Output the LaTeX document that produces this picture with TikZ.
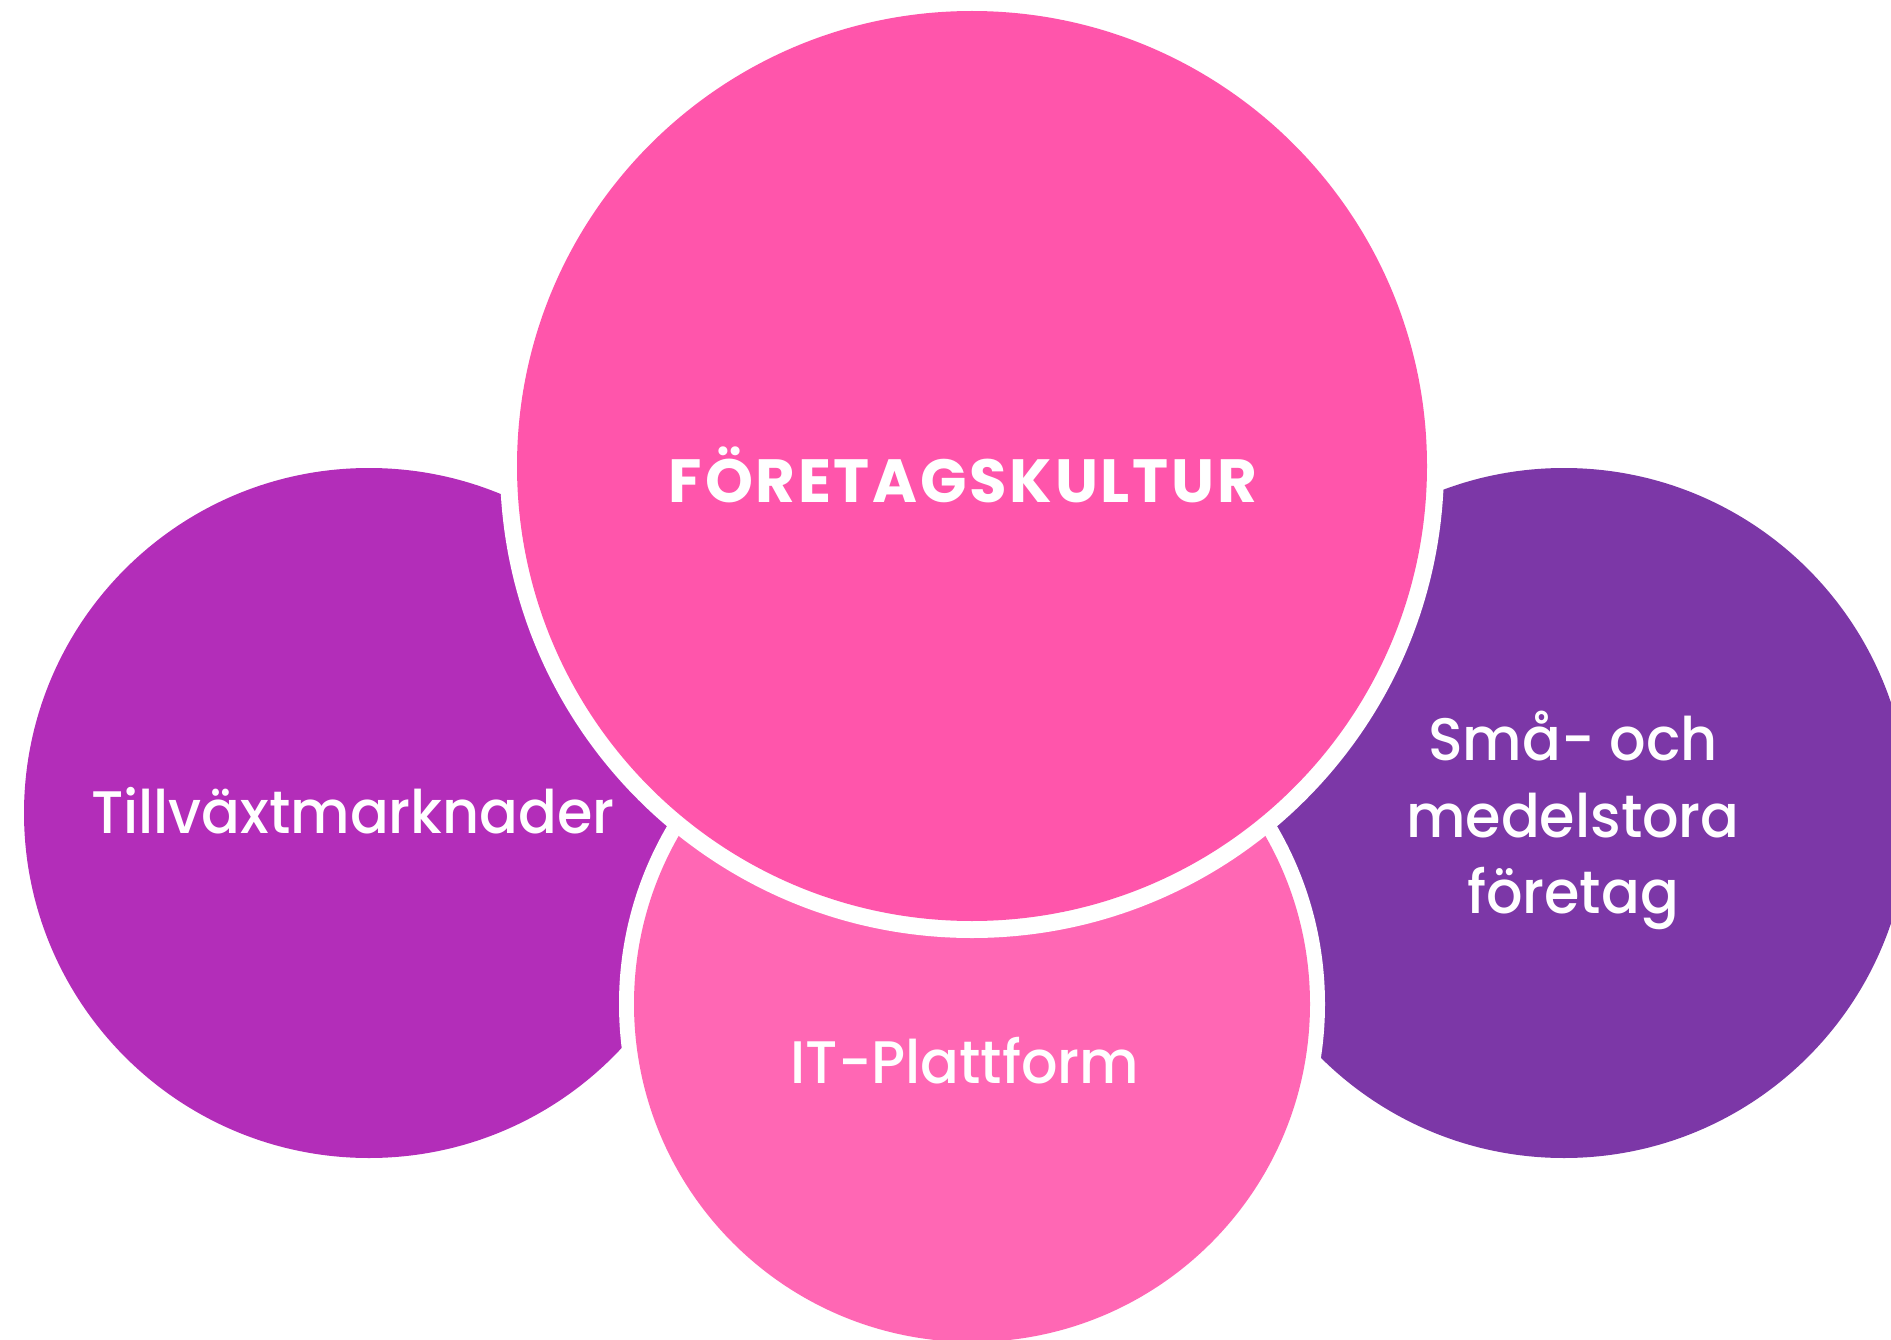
\documentclass[tikz,border=0pt]{standalone}
\usepackage{fontspec}
\setmainfont{Poppins}
\newfontfamily\medfont{Poppins Medium}[FakeStretch=0.955]
\newfontfamily\ttlfont{Poppins Bold}[LetterSpace=4.5]
\definecolor{toppink}{HTML}{FF55AB}
\definecolor{botpink}{HTML}{FF67B4}
\definecolor{leftpurple}{HTML}{B32DB9}
\definecolor{rightpurple}{HTML}{7C37A7}
\tikzset{
  lbl/.style={text=white, font=\medfont\fontsize{60}{76}\selectfont, align=center, inner sep=0pt},
  ttl/.style={text=white, font=\ttlfont\fontsize{61}{70}\selectfont, inner sep=0pt},
}
\begin{document}
\begin{tikzpicture}[x=1pt,y=-1pt]
\useasboundingbox (0,0) rectangle (1891,1340);
\clip (0,0) rectangle (1891,1340);
% left and right circles
\fill[leftpurple] (369,813) circle (345);
\fill[rightpurple] (1564,813) circle (345);
% bottom circle
\fill[white] (972,1004) circle (353);
\fill[botpink] (972,1004) circle (338);
% top circle
\fill[white] (972,466) circle (472);
\fill[toppink] (972,466) circle (455);
% texts
\node[ttl, anchor=base] (t1) at (963,502) {FÖRETAGSKULTUR};
\node[lbl, anchor=base] (t2) at (353,833) {Tillväxtmarknader};
\node[lbl, anchor=base] (t3) at (965,1083) {IT-Plattform};
\node[lbl, anchor=base] (t4a) at (1573,760) {Små- och};
\node[lbl, anchor=base] (t4b) at (1573,837) {medelstora};
\node[lbl, anchor=base] (t4c) at (1573,913) {företag};
\end{tikzpicture}
\end{document}
